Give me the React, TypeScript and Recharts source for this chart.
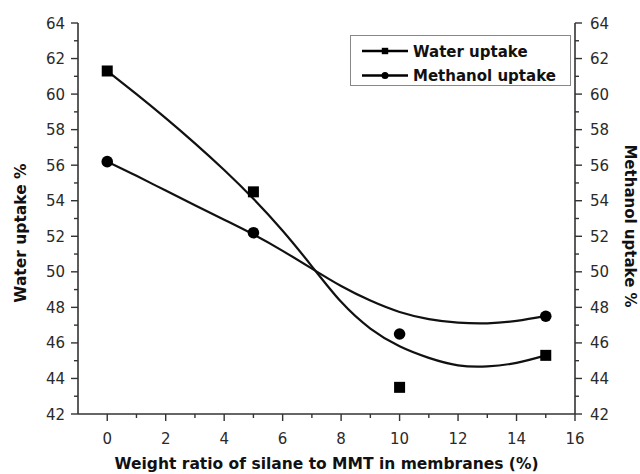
import React from 'react';
import { ComposedChart, Line, Scatter, XAxis, YAxis, Legend } from 'recharts';

// ---- data ----
const xTicks = [0, 1, 2, 3, 4, 5, 6, 7, 8, 9, 10, 11, 12, 13, 14, 15, 16];
const yTicks = [42, 43, 44, 45, 46, 47, 48, 49, 50, 51, 52, 53, 54, 55, 56, 57, 58, 59, 60, 61, 62, 63, 64];

const measuredX = [0, 5, 10, 15];
const waterUptake = [61.3, 54.5, 43.5, 45.3];
const methanolUptake = [56.2, 52.2, 46.5, 47.5];

// fitted curves
const fitX = [0, 1, 2, 3, 4, 5, 6, 7, 8, 9, 10, 11, 12, 13, 14, 15];
const waterFit = [61.3, 60.0, 58.65, 57.23, 55.73, 54.11, 52.31, 50.31, 48.31, 46.81, 45.81, 45.16, 44.74, 44.68, 44.88, 45.3];
const methanolFit = [56.2, 55.4, 54.57, 53.75, 52.93, 52.1, 51.18, 50.18, 49.2, 48.38, 47.74, 47.34, 47.14, 47.1, 47.24, 47.52];

const seriesNames = ['Water uptake', 'Methanol uptake'];

const waterPts = measuredX.map((x, i) => ({ x, y: waterUptake[i] }));
const methanolPts = measuredX.map((x, i) => ({ x, y: methanolUptake[i] }));
const waterCurve = fitX.map((x, i) => ({ x, y: waterFit[i] }));
const methanolCurve = fitX.map((x, i) => ({ x, y: methanolFit[i] }));

const FONT = 'DejaVu Sans';
const AXIS = '#333';
const TXT = '#2a2a2a';

const XTickBottom = (props: any) => {
  const { x, y, payload } = props;
  const v = payload.value;
  const major = v % 2 === 0;
  return (
    <g>
      <line x1={x} x2={x} y1={y} y2={y + (major ? 7 : 4)} stroke={AXIS} strokeWidth={1.4} />
      {major && (
        <text x={x} y={y + 29.5} textAnchor="middle" fontFamily={FONT} fontSize={15} fill={TXT}>
          {v}
        </text>
      )}
    </g>
  );
};

const XTickTop = (props: any) => {
  const { x, y, payload } = props;
  const v = payload.value;
  const major = v % 2 === 0;
  return <line x1={x} x2={x} y1={y} y2={y + (major ? 5 : 3)} stroke={AXIS} strokeWidth={1.4} />;
};

const YTickLeft = (props: any) => {
  const { x, y, payload } = props;
  const v = payload.value;
  const major = v % 2 === 0;
  return (
    <g>
      <line x1={x - (major ? 7 : 4)} x2={x} y1={y} y2={y} stroke={AXIS} strokeWidth={1.4} />
      {major && (
        <text x={x - 13} y={y + 5.5} textAnchor="end" fontFamily={FONT} fontSize={15} fill={TXT}>
          {v}
        </text>
      )}
    </g>
  );
};

const YTickRight = (props: any) => {
  const { x, y, payload } = props;
  const v = payload.value;
  const major = v % 2 === 0;
  return (
    <g>
      <line x1={x} x2={x + (major ? 7 : 4)} y1={y} y2={y} stroke={AXIS} strokeWidth={1.4} />
      {major && (
        <text x={x + 15} y={y + 5.5} textAnchor="start" fontFamily={FONT} fontSize={15} fill={TXT}>
          {v}
        </text>
      )}
    </g>
  );
};

const SquareDot = (props: any) => {
  const { cx, cy } = props;
  if (cx == null || cy == null) return null;
  return <rect x={cx - 5.5} y={cy - 5.5} width={11} height={11} fill="#000" />;
};

const CircleDot = (props: any) => {
  const { cx, cy } = props;
  if (cx == null || cy == null) return null;
  return <circle cx={cx} cy={cy} r={5.8} fill="#000" />;
};

const LegendBox = () => (
  <div
    style={{
      width: 221,
      height: 51,
      border: '1px solid #888',
      boxSizing: 'border-box',
      background: '#fff',
    }}
  >
    <svg width={219} height={49} style={{ display: 'block' }}>
      {seriesNames.map((name, i) => {
        const cy = 15 + i * 24.5;
        return (
          <g key={name}>
            <line x1={11} x2={57} y1={cy} y2={cy} stroke="#000" strokeWidth={2.4} />
            {i === 0 ? (
              <rect x={34 - 3.2} y={cy - 3.2} width={6.4} height={6.4} fill="#000" />
            ) : (
              <circle cx={34} cy={cy} r={3.5} fill="#000" />
            )}
            <text x={62} y={cy + 5.5} fontFamily={FONT} fontWeight="bold" fontSize={15} fill="#111">
              {name}
            </text>
          </g>
        );
      })}
    </svg>
  </div>
);

export default function App() {
  return (
    <div style={{ position: 'absolute', left: 0, top: 0, width: 640, height: 474, background: '#fff' }}>
      <ComposedChart width={640} height={474} margin={{ top: 23, right: 0, bottom: 0, left: 0 }}>
        <XAxis
          xAxisId="bottom"
          dataKey="x"
          type="number"
          domain={[-1, 16]}
          ticks={xTicks}
          interval={0}
          allowDataOverflow
          height={60}
          tickSize={0}
          tickMargin={0}
          tickLine={false}
          tick={<XTickBottom />}
          axisLine={{ stroke: AXIS, strokeWidth: 1.6 }}
          label={(p: any) => {
            const vb = p.viewBox;
            return (
              <text
                x={vb.x + vb.width / 2}
                y={vb.y + 55}
                textAnchor="middle"
                fontFamily={FONT}
                fontWeight="bold"
                fontSize={15.5}
                fill="#111"
              >
                Weight ratio of silane to MMT in membranes (%)
              </text>
            );
          }}
        />
        <XAxis
          xAxisId="top"
          orientation="top"
          dataKey="x"
          type="number"
          domain={[-1, 16]}
          ticks={xTicks}
          interval={0}
          allowDataOverflow
          height={0}
          tickSize={0}
          tickMargin={0}
          tickLine={false}
          tick={<XTickTop />}
          axisLine={{ stroke: AXIS, strokeWidth: 1.6 }}
        />
        <YAxis
          yAxisId="left"
          type="number"
          domain={[42, 64]}
          ticks={yTicks}
          interval={0}
          allowDataOverflow
          width={78}
          tickSize={0}
          tickMargin={0}
          tickLine={false}
          tick={<YTickLeft />}
          axisLine={{ stroke: AXIS, strokeWidth: 1.6 }}
          label={(p: any) => {
            const vb = p.viewBox;
            const cx = vb.x + 26;
            const cy = vb.y + vb.height / 2 + 14.5;
            return (
              <text
                x={cx}
                y={cy}
                transform={`rotate(-90 ${cx} ${cy})`}
                textAnchor="middle"
                fontFamily={FONT}
                fontWeight="bold"
                fontSize={15.5}
                fill="#111"
              >
                Water uptake %
              </text>
            );
          }}
        />
        <YAxis
          yAxisId="right"
          orientation="right"
          type="number"
          domain={[42, 64]}
          ticks={yTicks}
          interval={0}
          allowDataOverflow
          width={65}
          tickSize={0}
          tickMargin={0}
          tickLine={false}
          tick={<YTickRight />}
          axisLine={{ stroke: AXIS, strokeWidth: 1.6 }}
          label={(p: any) => {
            const vb = p.viewBox;
            const cx = vb.x + 49.5;
            const cy = vb.y + vb.height / 2 + 7.5;
            return (
              <text
                x={cx}
                y={cy}
                transform={`rotate(90 ${cx} ${cy})`}
                textAnchor="middle"
                fontFamily={FONT}
                fontWeight="bold"
                fontSize={15}
                fill="#111"
              >
                Methanol uptake %
              </text>
            );
          }}
        />
        <Legend
          layout="horizontal"
          align="center"
          verticalAlign="middle"
          content={<LegendBox />}
          wrapperStyle={{ left: 350, top: 35, width: 221, height: 51 }}
        />
        <Line
          xAxisId="bottom"
          yAxisId="left"
          data={waterCurve}
          dataKey="y"
          type="natural"
          stroke="#111"
          strokeWidth={2.2}
          dot={false}
          activeDot={false}
          isAnimationActive={false}
          legendType="none"
        />
        <Line
          xAxisId="bottom"
          yAxisId="right"
          data={methanolCurve}
          dataKey="y"
          type="natural"
          stroke="#111"
          strokeWidth={2.2}
          dot={false}
          activeDot={false}
          isAnimationActive={false}
          legendType="none"
        />
        <Scatter
          xAxisId="bottom"
          yAxisId="left"
          data={waterPts}
          dataKey="y"
          name={seriesNames[0]}
          shape={<SquareDot />}
          isAnimationActive={false}
        />
        <Scatter
          xAxisId="bottom"
          yAxisId="right"
          data={methanolPts}
          dataKey="y"
          name={seriesNames[1]}
          shape={<CircleDot />}
          isAnimationActive={false}
        />
      </ComposedChart>
    </div>
  );
}
